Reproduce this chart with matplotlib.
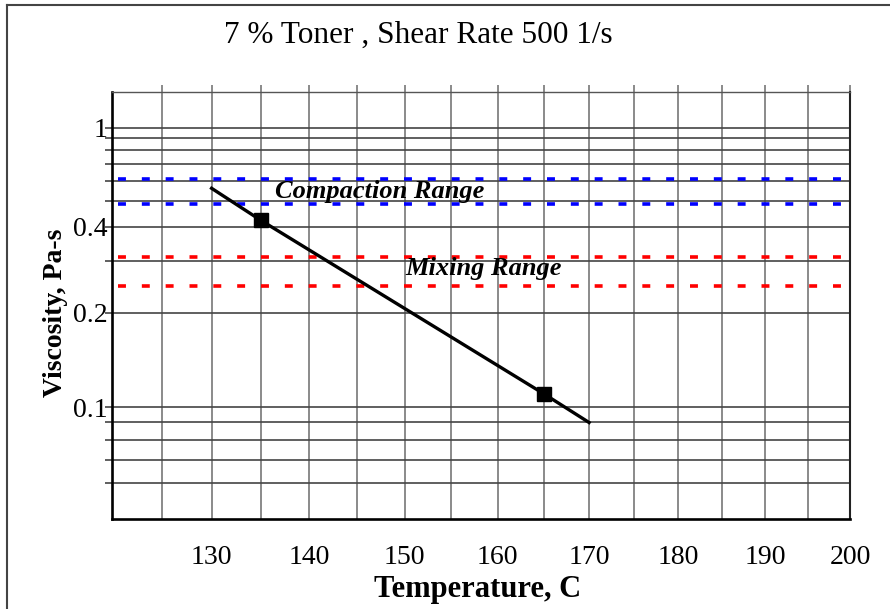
import matplotlib
matplotlib.use("Agg")
import matplotlib.pyplot as plt
from matplotlib.lines import Line2D
import numpy as np

plt.rcParams['font.family'] = ['Liberation Serif', 'DejaVu Serif']

# data
temp = [130, 135, 165, 170]
visc = [0.562, 0.424, 0.110, 0.090]
compaction = [0.61, 0.49]
mixing = [0.31, 0.247]

x_ticks = [125, 130, 135, 140, 145, 150, 155, 160, 165, 170, 175, 180, 185, 190, 195, 200]
x_labels = ['', '130', '', '140', '', '150', '', '160', '', '170', '', '180', '', '190', '', '200']
y_grid = [0.06, 0.07, 0.08, 0.09, 0.1, 0.2, 0.3, 0.4, 0.5, 0.6, 0.7, 0.8, 0.9, 1.0]
y_show = {0.1: '0.1', 0.2: '0.2', 0.4: '0.4', 1.0: '1'}

# the original plot axes are slightly warped, mimic with function scales
kx = 0.001046
def xfwd(T):
    t = np.asarray(T, dtype=float) - 120.0
    return t - kx * t**2
def xinv(h):
    h = np.asarray(h, dtype=float)
    return 120.0 + (1 - np.sqrt(np.clip(1 - 4 * kx * h, 0, None))) / (2 * kx)

ky = 0.2188
def yfwd(v):
    L = np.log10(np.clip(np.asarray(v, dtype=float), 1e-12, None))
    return L - ky * L**2
def yinv(g):
    g = np.asarray(g, dtype=float)
    L = (1 - np.sqrt(np.clip(1 - 4 * ky * g, 0, None))) / (2 * ky)
    return 10**L

fig = plt.figure(figsize=(8.9, 6.09), dpi=100)
ax = fig.add_axes([0.1258, 0.1486, 0.8293, 0.7008])
ax.set_xscale('function', functions=(xfwd, xinv))
ax.set_yscale('function', functions=(yfwd, yinv))
ax.set_xlim(120, 200)
ax.set_ylim(0.0477, 1.455)

ax.set_xticks(x_ticks)
ax.set_xticklabels(x_labels)
ax.set_yticks(y_grid)
ax.set_yticklabels([y_show.get(v, '') for v in y_grid])
ax.minorticks_off()

ax.grid(axis='x', color='#777777', lw=1.2)
ax.grid(axis='y', color='#444444', lw=1.2)
ax.tick_params(axis='x', bottom=False, top=True, labelbottom=True, direction='out',
               length=5, width=1.2, color='#777777', labelsize=20, pad=14)
ax.tick_params(axis='y', left=True, direction='out', length=5, width=1.2,
               color='#444444', labelsize=20, pad=-2)

for s in ['left', 'bottom']:
    ax.spines[s].set_linewidth(1.9)
    ax.spines[s].set_color('black')
ax.spines['right'].set_linewidth(1.5)
ax.spines['right'].set_color('#222222')
ax.spines['top'].set_linewidth(1.0)
ax.spines['top'].set_color('#555555')

ax.hlines(compaction, 120.6, 199.6, colors='#0000ff', lw=2.6, linestyles=(0, (2.2, 4.4)), zorder=3)
ax.hlines(mixing, 120.6, 199.6, colors='#ff0000', lw=2.6, linestyles=(0, (2.2, 4.4)), zorder=3)

ax.plot(temp, visc, color='black', lw=2.4, marker='s', markersize=10,
        markevery=[1, 2], zorder=4)

ax.text(0.221, 0.752, 'Compaction Range', transform=ax.transAxes, fontsize=19,
        fontweight='bold', fontstyle='italic', va='baseline', ha='left', zorder=5)
ax.text(0.397, 0.5705, 'Mixing Range', transform=ax.transAxes, fontsize=19,
        fontweight='bold', fontstyle='italic', va='baseline', ha='left', zorder=5)

fig.text(0.47, 1 - 43 / 609, '7 % Toner , Shear Rate 500 1/s', fontsize=22.5,
         ha='center', va='baseline')
fig.text(0.537, 1 - 589 / 609, 'Temperature, C', fontsize=22, fontweight='bold',
         ha='center', va='center')
fig.text(0.062, 1 - 313 / 609, 'Viscosity, Pa-s', fontsize=20, fontweight='bold',
         rotation=90, ha='center', va='center')

# outer frame of the original picture
fig.add_artist(Line2D([7 / 890, 7 / 890], [0, 1 - 5 / 609], color='#444444', lw=1.5))
fig.add_artist(Line2D([7 / 890, 1], [1 - 5 / 609, 1 - 5 / 609], color='#444444', lw=1.5))

fig.savefig('out.png', dpi=100)
